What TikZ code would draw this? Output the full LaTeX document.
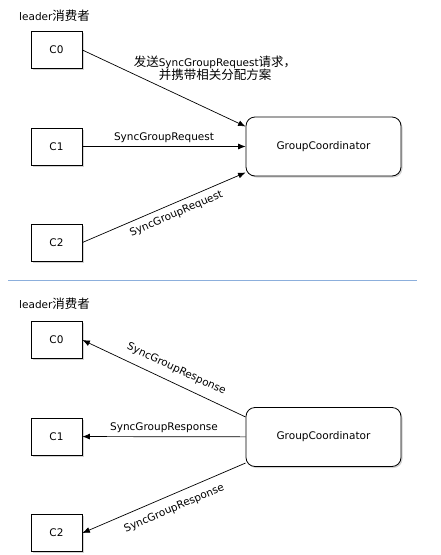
\documentclass[tikz,border=0pt]{standalone}
\usepackage{fontspec}
\setmainfont{DejaVu Sans}
\newfontfamily\cjk{Noto Sans CJK SC}
\usetikzlibrary{arrows.meta,shadows}
\definecolor{sepblue}{RGB}{140,175,220}

\tikzset{
  client/.style={draw, line width=0.8pt, fill=white, minimum width=51pt, minimum height=37pt,
    drop shadow={shadow xshift=1.5pt, shadow yshift=-1.5pt, opacity=0.35}},
  coord/.style={draw, line width=0.8pt, fill=white, rounded corners=9pt, minimum width=155pt, minimum height=59pt,
    drop shadow={shadow xshift=1.5pt, shadow yshift=-1.5pt, opacity=0.35}},
  msg/.style={line width=0.7pt, -{Latex[length=7.5pt,width=6pt]}},
}
\newcommand{\zh}[1]{{\cjk\fontsize{12.5}{15}\selectfont #1}}

\begin{document}
\begin{tikzpicture}[x=1pt, y=-1pt, font=\fontsize{10.5}{12}\selectfont]
\useasboundingbox (0,0) rectangle (441,555);
% 上半部分：SyncGroupRequest
\node[anchor=west, inner sep=1pt] (lead1) at (18,16) {leader\zh{消费者}};
\foreach \i/\y in {0/50,1/146.5,2/242.5}
    \node[client] (c\i) at (56.5,\y) {C\i};
\node[coord] (gc) at (323.5,146.5) {GroupCoordinator};
\draw[msg] (c0.east) -- ([yshift=20pt]gc.west);
\draw[msg] (c1) -- (gc) node[midway, above] {SyncGroupRequest};
\draw[msg] (c2.east) -- ([yshift=-26pt]gc.west) node[pos=0.55, sloped, below=2pt] {SyncGroupRequest};
\node[align=center, inner sep=0pt] (note) at (215,68)
    {\zh{发送}SyncGroupRequest\zh{请求，}\\[-1pt]
     \zh{并携带相关分配方案}};
% 分隔线
\draw[sepblue, line width=0.8pt] (8,280) -- (417,280);
% 下半部分：SyncGroupResponse
\node[anchor=west, inner sep=1pt] (lead2) at (18,304) {leader\zh{消费者}};
\foreach \i/\y in {0/340,1/436.5,2/533}
    \node[client] (r\i) at (56.5,\y) {C\i};
\node[coord] (rgc) at (323.5,437) {GroupCoordinator};
\draw[msg] ([yshift=20pt]rgc.west) -- (r0.east) node[pos=0.46, sloped, above=5pt] {SyncGroupResponse};
\draw[msg] (rgc) -- (r1) node[midway, above] {SyncGroupResponse};
\draw[msg] ([yshift=-26pt]rgc.west) -- (r2.east) node[pos=0.47, sloped, below=5pt] {SyncGroupResponse};
\end{tikzpicture}
\end{document}
